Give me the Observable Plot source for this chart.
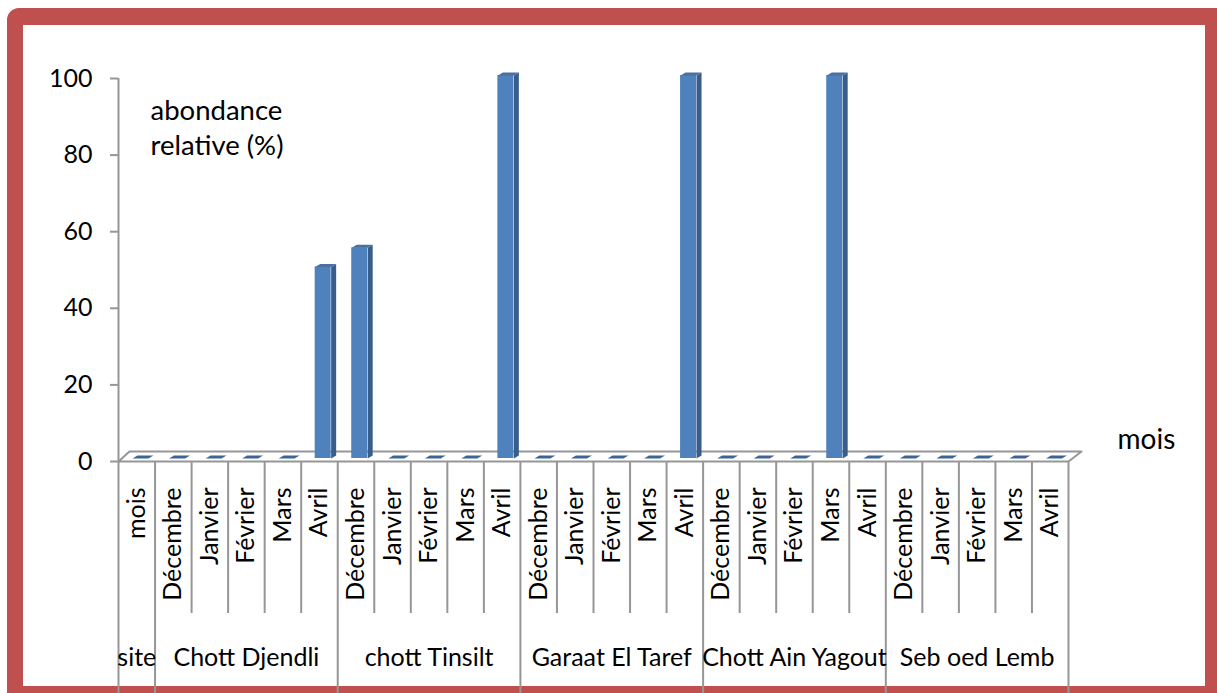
<!DOCTYPE html>
<html>
<head>
<meta charset="utf-8">
<script src="https://cdn.jsdelivr.net/npm/d3@7"></script>
<script src="https://cdn.jsdelivr.net/npm/@observablehq/plot@0.6"></script>
<style>
  html, body { margin: 0; padding: 0; background: #fff; }
  #wrap { position: relative; width: 1217px; height: 693px; overflow: hidden; background: #fff; }
  #frame { position: absolute; left: 7px; top: 8px; width: 1214px; height: 694px; box-sizing: border-box;
           border: 16px solid #c0504d; border-top-width: 17px; border-radius: 12px 0 0 0; background: #fff; }
  #chart { position: absolute; left: 0; top: 0; }
</style>
</head>
<body>
<div id="wrap"><div id="frame"></div><div id="chart"></div></div>
<script>
// ---- data ----
const firstColumnLabel = "mois";
const firstColumnSite = "site";
const firstColumnValue = 0;
const months = ["Décembre", "Janvier", "Février", "Mars", "Avril"];
const sites = ["Chott Djendli", "chott Tinsilt", "Garaat El Taref", "Chott Ain Yagout", "Seb oed Lemb"];
const chottDjendli = [0, 0, 0, 0, 50];
const chottTinsilt = [55, 0, 0, 0, 100];
const garaatElTaref = [0, 0, 0, 0, 100];
const chottAinYagout = [0, 0, 0, 100, 0];
const sebOedLemb = [0, 0, 0, 0, 0];
const yTicks = [0, 20, 40, 60, 80, 100];
const xTitle = "mois";
const yTitle = ["abondance", "relative (%)"];

// ---- build table ----
const seriesBySite = [chottDjendli, chottTinsilt, garaatElTaref, chottAinYagout, sebOedLemb];
const cols = [{i: 0, label: firstColumnLabel, value: firstColumnValue}];
sites.forEach((s, si) => months.forEach((m, mi) => cols.push({i: cols.length, label: m, site: s, value: seriesBySite[si][mi]})));
const N = cols.length;
const siteRows = [{label: firstColumnSite, a: 0, b: 1}].concat(sites.map((s, si) => ({label: s, a: 1 + si * 5, b: 6 + si * 5})));
const majorBounds = [0, 1, ...sites.map((s, si) => 6 + si * 5)];
const minorBounds = d3.range(0, N + 1).filter(b => !majorBounds.includes(b));

// ---- layout ----
const W = 1217, H = 693;
const ML = 118, MR = W - 1068, MT = 78, MB = H - 461;
const pxX = (W - ML - MR) / N, pxY = (H - MT - MB) / 100;
const X = px => px / pxX;      // pixel offset -> x units
const Y = py => -py / pxY;     // downward pixel offset -> y units

const bx0 = 0.383, bx1 = 0.82;  // bar front face within column
const sdx = X(5), sdy = Y(-3);  // depth offset of bar
const cFace = "#4f81bd", cSide = "#385d8a", cTop = "#4a70a0", cZeroTop = "#3c6494";
const grey = "#969696";

const sidePolys = [], topPolys = [];
cols.forEach(d => {
  const x0 = d.i + bx0, x1 = d.i + bx1, v = d.value;
  if (v > 0) {
    [[x1, 0], [x1 + sdx, sdy], [x1 + sdx, v + sdy], [x1, v]].forEach(([x, y]) => sidePolys.push({id: d.i, x, y}));
  }
  [[x0, v], [x1, v], [x1 + sdx, v + sdy], [x0 + sdx, v + sdy]].forEach(([x, y]) => topPolys.push({id: d.i, x, y, zero: v === 0}));
});
const floor = [[0, 0], [N, 0], [N + X(13), Y(-10)], [X(11), Y(-10)]].map(([x, y]) => ({x, y}));

const plot = Plot.plot({
  width: W, height: H,
  marginLeft: ML, marginRight: MR, marginTop: MT, marginBottom: MB,
  style: {background: "transparent", fontFamily: "Lato, sans-serif", fontSize: "25px", color: "#000"},
  x: {domain: [0, N], axis: null},
  y: {domain: [0, 100], ticks: yTicks, tickSize: 0, tickPadding: 26, label: null, tickFormat: d => String(d)},
  marks: [
    Plot.line(floor, {x: "x", y: "y", curve: "linear-closed", stroke: grey, strokeWidth: 2, fill: "none"}),
    Plot.ruleX([0], {x: d => d, y1: () => 0, y2: () => 100, stroke: grey, strokeWidth: 2}),
    Plot.ruleY(yTicks, {y: d => d, x1: () => X(-8), x2: () => 0, stroke: grey, strokeWidth: 2}),
    Plot.ruleX(minorBounds, {x: d => d, y1: () => 0, y2: () => Y(152), stroke: grey, strokeWidth: 2}),
    Plot.ruleX(majorBounds, {x: d => d, y1: () => 0, y2: () => Y(240), stroke: grey, strokeWidth: 2}),
    Plot.rect(cols.filter(d => d.value > 0), {x1: d => d.i + bx0, x2: d => d.i + bx1, y1: () => 0, y2: d => d.value, fill: cFace, dy: -3}),
    Plot.line(sidePolys, {x: "x", y: "y", z: "id", curve: "linear-closed", fill: cSide, stroke: "none", dy: -3}),
    Plot.line(topPolys, {x: "x", y: "y", z: "id", curve: "linear-closed", fill: d => d.zero ? cZeroTop : cTop, stroke: "none", dy: -3}),
    Plot.text(cols, {x: d => d.i + 0.5, y: () => Y(26), text: "label", rotate: -90, textAnchor: "end", lineAnchor: "middle", fill: "#000"}),
    Plot.text(siteRows, {x: d => (d.a + d.b) / 2, y: () => Y(196), text: "label", fill: "#000"}),
    Plot.text([xTitle], {x: () => N + X(49), y: () => Y(-21), text: d => d, textAnchor: "start", fill: "#000", fontSize: 28}),
    Plot.text([yTitle[0]], {frameAnchor: "top-left", dx: 32, dy: 22, text: d => d, textAnchor: "start", fill: "#000", fontSize: 27.5}),
    Plot.text([yTitle[1]], {frameAnchor: "top-left", dx: 32, dy: 57, text: d => d, textAnchor: "start", fill: "#000", fontSize: 27.5})
  ]
});
document.getElementById("chart").appendChild(plot);
</script>
</body>
</html>
